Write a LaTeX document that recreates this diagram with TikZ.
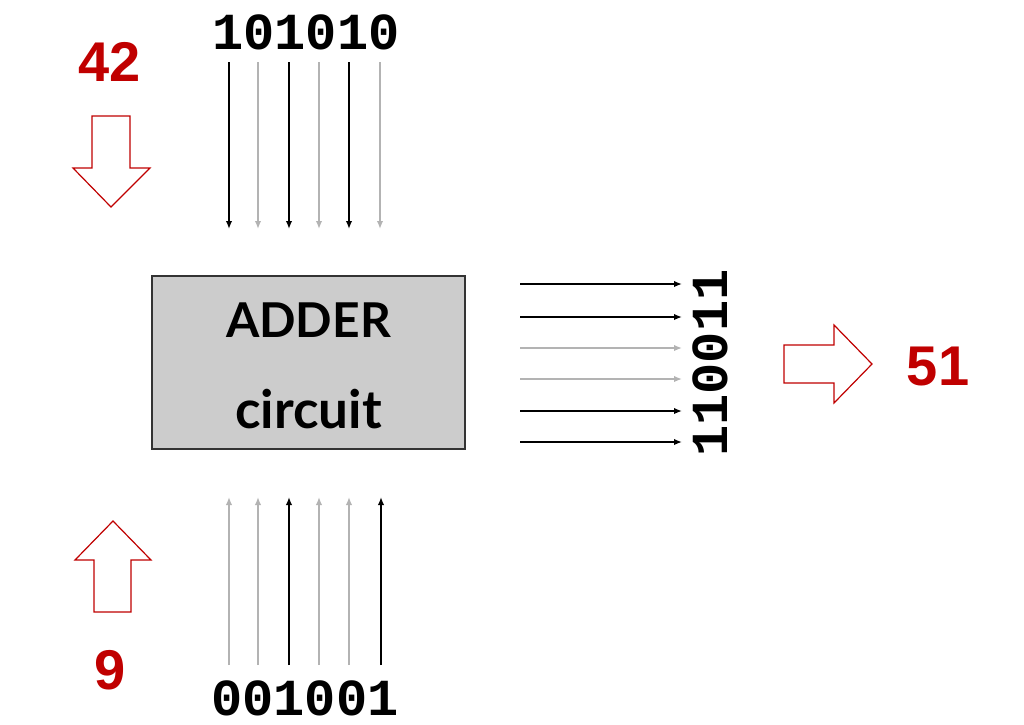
\documentclass[tikz,border=0pt]{standalone}
\usepackage{fontspec}
\usepackage{xcolor}
\usetikzlibrary{arrows.meta}
\setmainfont{Liberation Sans}
\newfontfamily\bitfont{Liberation Mono}
\newfontfamily\boxfont{Lato}
\definecolor{numred}{HTML}{C00000}
\definecolor{bitgray}{HTML}{B3B3B3}
\definecolor{boxgray}{HTML}{CCCCCC}

\begin{document}
\begin{tikzpicture}[x=1pt, y=-1pt,
    one/.style={draw=black, line width=2pt, -{Latex[length=8pt,width=6.5pt]}},
    zero/.style={draw=bitgray, line width=2pt, -{Latex[length=8pt,width=6.5pt]}},
    bits/.style={font=\bitfont\bfseries\fontsize{52}{52}\selectfont, inner sep=0pt},
    num/.style={font=\bfseries\fontsize{56}{56}\selectfont, text=numred, inner sep=0pt},
    hollow/.style={draw=numred, line width=1.2pt, fill=white}]
    \useasboundingbox (0,0) rectangle (1024,724);

    % Adder box
    \node[draw=black!80, line width=1.2pt, fill=boxgray, minimum width=313pt, minimum height=173pt] (adder) at (308.5,362.5) {};
    \node[font=\boxfont\bfseries\fontsize{48}{91}\selectfont, align=center, inner sep=0pt] (adderlabel) at (308.5,366)
        {ADDER\\\fontsize{53}{91}\selectfont circuit};

    % Input A: 101010
    \node[bits] (bitsa) at (306,32) {101010};
    \coordinate (a1s) at (229,62);  \coordinate (a1e) at (229,229);
    \coordinate (a2s) at (258,62);  \coordinate (a2e) at (258,229);
    \coordinate (a3s) at (289,62);  \coordinate (a3e) at (289,229);
    \coordinate (a4s) at (319,62);  \coordinate (a4e) at (319,229);
    \coordinate (a5s) at (349,62);  \coordinate (a5e) at (349,229);
    \coordinate (a6s) at (380,62);  \coordinate (a6e) at (380,229);
    \draw[one]  (a1s) -- (a1e);
    \draw[zero] (a2s) -- (a2e);
    \draw[one]  (a3s) -- (a3e);
    \draw[zero] (a4s) -- (a4e);
    \draw[one]  (a5s) -- (a5e);
    \draw[zero] (a6s) -- (a6e);

    % Input B: 001001
    \node[bits] (bitsb) at (305,698) {001001};
    \coordinate (b1s) at (229,665);  \coordinate (b1e) at (229,497);
    \coordinate (b2s) at (258,665);  \coordinate (b2e) at (258,497);
    \coordinate (b3s) at (289,665);  \coordinate (b3e) at (289,497);
    \coordinate (b4s) at (319,665);  \coordinate (b4e) at (319,497);
    \coordinate (b5s) at (349,665);  \coordinate (b5e) at (349,497);
    \coordinate (b6s) at (381,665);  \coordinate (b6e) at (381,497);
    \draw[zero] (b1s) -- (b1e);
    \draw[zero] (b2s) -- (b2e);
    \draw[one]  (b3s) -- (b3e);
    \draw[zero] (b4s) -- (b4e);
    \draw[zero] (b5s) -- (b5e);
    \draw[one]  (b6s) -- (b6e);

    % Output: 110011
    \node[bits, rotate=90] (bitss) at (710,363) {110011};
    \coordinate (s1s) at (520,284);  \coordinate (s1e) at (682,284);
    \coordinate (s2s) at (520,317);  \coordinate (s2e) at (682,317);
    \coordinate (s3s) at (520,348);  \coordinate (s3e) at (682,348);
    \coordinate (s4s) at (520,379);  \coordinate (s4e) at (682,379);
    \coordinate (s5s) at (520,411);  \coordinate (s5e) at (682,411);
    \coordinate (s6s) at (520,442);  \coordinate (s6e) at (682,442);
    \draw[one]  (s1s) -- (s1e);
    \draw[one]  (s2s) -- (s2e);
    \draw[zero] (s3s) -- (s3e);
    \draw[zero] (s4s) -- (s4e);
    \draw[one]  (s5s) -- (s5e);
    \draw[one]  (s6s) -- (s6e);

    % Decimal values with hollow arrows
    \node[num] (numa) at (110,62) {42};
    \draw[hollow] (92,116) -- (130,116) -- (130,168) -- (150,168) -- (111,207)
        -- (73,168) -- (92,168) -- cycle;
    \node[num] (numb) at (110,670) {9};
    \draw[hollow] (94,612) -- (131,612) -- (131,560) -- (151,560) -- (113,521)
        -- (75,560) -- (94,560) -- cycle;
    \node[num] (nums) at (938,366) {51};
    \draw[hollow] (784,345) -- (834,345) -- (834,325) -- (872,364) -- (834,403)
        -- (834,383) -- (784,383) -- cycle;
\end{tikzpicture}
\end{document}
